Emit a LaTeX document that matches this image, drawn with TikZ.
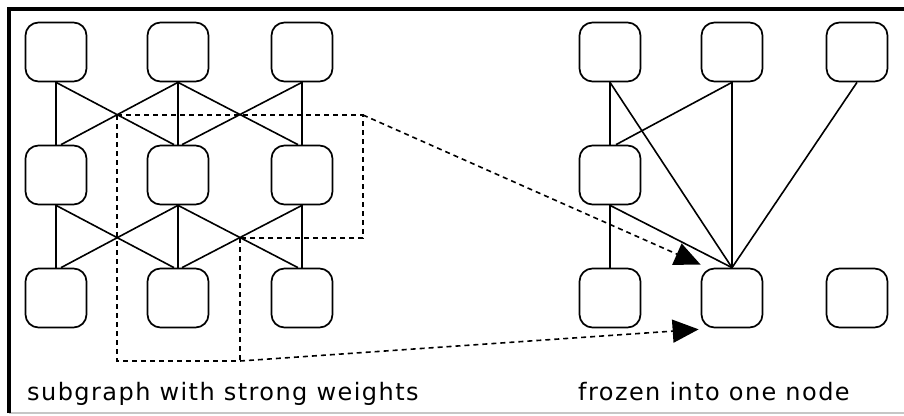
\documentclass[tikz,border=0pt]{standalone}
\usepackage{fontspec}
\setmainfont{DejaVu Sans}[LetterSpace=6]
\usetikzlibrary{arrows.meta,calc}
\begin{document}
\begin{tikzpicture}[x=1pt,y=-1pt,
  unit/.style={draw, line width=1.7pt, rounded corners=13pt, minimum width=61pt, minimum height=59pt, inner sep=0pt},
  link/.style={line width=1.6pt},
  sub/.style={line width=1.6pt, dash pattern=on 5pt off 4pt},
  jump/.style={sub, -{Triangle[length=26pt,width=23pt]}},
  caption/.style={anchor=base west, font=\fontsize{24}{28}\selectfont, inner sep=0pt}]
\useasboundingbox (0,0) rectangle (904,415);
\fill[white] (0,0) rectangle (904,415);
% frame
\draw[gray!45, line width=1.5pt] (9,413) -- (904,413);
\draw[line width=4pt] (9,413) -- (9,9) -- (904,9);

% left panel nodes
\foreach \c/\x in {1/56,2/178,3/302}{
  \foreach \r/\y in {1/52,2/175,3/298}{
    \node[unit] (L\r\c) at (\x,\y) {};
  }
}
% right panel nodes
\node[unit] (R11) at (610,52) {};
\node[unit] (R12) at (732,52) {};
\node[unit] (R13) at (857,52) {};
\node[unit] (R21) at (610,175) {};
\node[unit] (R31) at (610,298) {};
\node[unit] (R32) at (732,298) {};
\node[unit] (R33) at (857,298) {};

% left panel links
\foreach \a/\b in {1/2,2/3}{
  \foreach \c in {1,2,3}{
    \draw[link] (L\a\c.south) -- (L\b\c.north);
  }
  \draw[link] (L\a1.south) -- ([xshift=-4pt]L\b2.north);
  \draw[link] (L\a2.south) -- ([xshift=5pt]L\b1.north);
  \draw[link] (L\a2.south) -- ([xshift=-4pt]L\b3.north);
  \draw[link] (L\a3.south) -- ([xshift=4pt]L\b2.north);
}

% right panel links
\draw[link] (R11.south) -- (R21.north);
\draw[link] (R21.south) -- (R31.north);
\draw[link] (R12.south) -- ([xshift=6pt]R21.north);
\draw[link] (R12.south) -- (R32.north);
\draw[link] (R11.south) -- (R32.north);
\draw[link] (R13.south) -- (R32.north);
\draw[link] (R21.south) -- (R32.north);

% strong-weight subgraph outline
\coordinate (x1) at (117,115);
\coordinate (x2) at (240,238);
\coordinate (c1) at (363,115);
\coordinate (c2) at (363,238);
\coordinate (c3) at (117,361);
\coordinate (c4) at (240,361);
\draw[sub] (x1) -- (c1) -- (c2) -- (x2);
\draw[sub] (x1) -- (c3) -- (c4);
\draw[sub] (x2) -- (c4);

% arrows into frozen node
\draw[jump] (c1) -- ([yshift=3pt]R32.north west);
\draw[jump] (c4) -- ([xshift=-2pt,yshift=-1pt]R32.south west);

% captions
\node[caption] (t1) at (27,400) {subgraph with strong weights};
\node[caption] (t2) at (578,400) {frozen into one node};
\end{tikzpicture}
\end{document}
